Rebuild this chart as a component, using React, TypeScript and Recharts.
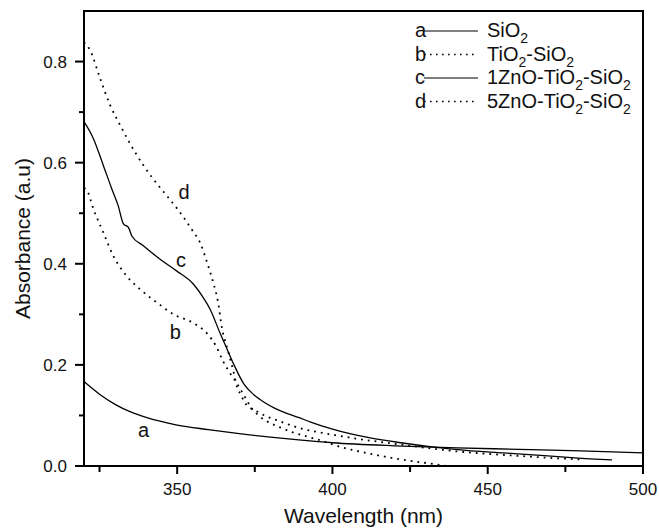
import React from 'react';
import { LineChart, Line, XAxis, YAxis, ReferenceDot, ReferenceArea } from 'recharts';

// wavelength (nm) / absorbance (a.u.)
const waveA = [320, 325, 330, 335, 340, 350, 360, 370, 380, 390, 400, 420, 440, 460, 480, 500];
const absA = [0.167, 0.142, 0.122, 0.107, 0.096, 0.081, 0.072, 0.064, 0.057, 0.051, 0.046, 0.04, 0.036, 0.033, 0.03, 0.026];

const waveB = [320, 321, 323, 326.2, 329.4, 333.7, 338, 340.7, 342.9, 348.8, 355.2, 359.5, 362.7, 364.8, 367, 369.2, 371.4, 374, 376, 379, 382.5, 387, 392, 397, 403, 410, 420, 430, 437];
const absB = [0.55, 0.545, 0.509, 0.462, 0.416, 0.376, 0.35, 0.336, 0.326, 0.3, 0.283, 0.263, 0.235, 0.207, 0.184, 0.164, 0.141, 0.114, 0.101, 0.088, 0.078, 0.067, 0.058, 0.049, 0.037, 0.027, 0.015, 0.006, 0.0];

const waveC = [320, 323, 326.2, 328.9, 331, 332.7, 334.3, 335.4, 339, 344.5, 349.8, 355.2, 358.4, 360.6, 363.8, 366, 368.3, 371.5, 374.5, 378, 381.5, 385.3, 389, 393, 400, 411, 422, 432, 443, 455, 467, 478, 490];
const absC = [0.681, 0.648, 0.595, 0.549, 0.515, 0.479, 0.472, 0.455, 0.436, 0.409, 0.386, 0.36, 0.333, 0.31, 0.263, 0.232, 0.2, 0.162, 0.142, 0.126, 0.114, 0.104, 0.096, 0.087, 0.073, 0.057, 0.046, 0.038, 0.031, 0.026, 0.021, 0.016, 0.012];

const waveD = [320, 322, 325, 328.4, 332, 337, 342, 346.6, 350, 355, 357.5, 359.5, 361.5, 363.2, 364.5, 365.6, 366.7, 368, 369.4, 370.5, 371.6, 373.8, 376, 379, 381.5, 385, 390, 394.5, 400, 410, 420, 430, 440, 450, 460, 470, 480];
const absD = [0.838, 0.822, 0.77, 0.714, 0.67, 0.615, 0.57, 0.535, 0.509, 0.465, 0.44, 0.405, 0.365, 0.323, 0.27, 0.244, 0.22, 0.19, 0.154, 0.141, 0.127, 0.114, 0.107, 0.0975, 0.092, 0.084, 0.074, 0.068, 0.062, 0.052, 0.044, 0.036, 0.029, 0.024, 0.02, 0.016, 0.013];

const xTicks = [325, 350, 375, 400, 425, 450, 475, 500];
const yTicks = [0, 0.1, 0.2, 0.3, 0.4, 0.5, 0.6, 0.7, 0.8];

const legendTags = ['a', 'b', 'c', 'd'];
const legendNames = ['SiO_2', 'TiO_2-SiO_2', '1ZnO-TiO_2-SiO_2', '5ZnO-TiO_2-SiO_2'];
const legendDotted = [false, true, false, true];

// letters written next to the curves
const curveTags = ['a', 'b', 'c', 'd'];
const tagX = [339.2, 349.4, 351.2, 352.2];
const tagY = [0.071, 0.266, 0.407, 0.543];

const FONT = '"Liberation Sans", Arial, sans-serif';
const DOTS = '1.8 5';
const GAP = 10; // tickSize 8 + tickMargin 2

const toPoints = (xs: number[], ys: number[]) => xs.map((x, i) => ({ x, y: ys[i] }));
const seriesA = toPoints(waveA, absA);
const seriesB = toPoints(waveB, absB);
const seriesC = toPoints(waveC, absC);
const seriesD = toPoints(waveD, absD);

const XTick = (props: any) => {
  const { x, y, payload } = props;
  const major = payload.value % 50 === 0;
  const axis = y - GAP;
  return (
    <g>
      <path d={`M${x},${axis}L${x},${axis + (major ? 8 : 6)}`} stroke="#000" strokeWidth={2} fill="none" />
      {major && (
        <text x={x} y={axis + 29} textAnchor="middle" fontSize={17} fontFamily={FONT} fill="#111">
          {payload.value}
        </text>
      )}
    </g>
  );
};

const YTick = (props: any) => {
  const { x, y, payload } = props;
  const major = Math.round(payload.value * 10) % 2 === 0;
  const axis = x + GAP;
  return (
    <g>
      <path d={`M${axis - (major ? 9 : 5)},${y}L${axis},${y}`} stroke="#000" strokeWidth={2} fill="none" />
      {major && (
        <text x={axis - 17} y={y} dy="0.36em" textAnchor="end" fontSize={17} fontFamily={FONT} fill="#111">
          {payload.value.toFixed(1)}
        </text>
      )}
    </g>
  );
};

const subText = (name: string) =>
  name.split('_').map((part, i) =>
    i === 0 ? (
      <tspan key={i}>{part}</tspan>
    ) : (
      <React.Fragment key={i}>
        <tspan dy={6} fontSize={14}>{part[0]}</tspan>
        {part.length > 1 && <tspan dy={-6}>{part.slice(1)}</tspan>}
      </React.Fragment>
    )
  );

const LegendBox = () => (
  <svg width={259} height={120} style={{ position: 'absolute', left: 400, top: 0, pointerEvents: 'none' }}>
    {legendTags.map((tag, i) => {
      const base = 37 + i * 23.5;
      return (
        <g key={tag} fontFamily={FONT} fontSize={20} fill="#111">
          <text x={15} y={base}>{tag}</text>
          <line
            x1={24}
            y1={base - 6}
            x2={78}
            y2={base - 6}
            stroke="#000"
            strokeWidth={legendDotted[i] ? 1.6 : 1.2}
            strokeDasharray={legendDotted[i] ? '1.6 4.4' : undefined}
          />
          <text x={87} y={base}>{subText(legendNames[i])}</text>
        </g>
      );
    })}
  </svg>
);

const App = () => {
  return (
    <div style={{ position: 'absolute', left: 0, top: 0, width: 659, height: 528 }}>
      <LineChart width={659} height={528} margin={{ top: 11, right: 16, bottom: 32, left: 24 }}>
        <XAxis
          dataKey="x"
          type="number"
          domain={[320, 500]}
          ticks={xTicks}
          interval={0}
          height={30}
          tickSize={8}
          tickMargin={2}
          tickLine={{ stroke: 'none' }}
          tick={<XTick />}
          axisLine={{ stroke: '#000', strokeWidth: 2 }}
          label={{ value: 'Wavelength (nm)', position: 'bottom', offset: 12, fontSize: 21, fontFamily: FONT, fill: '#111' }}
        />
        <YAxis
          type="number"
          domain={[0, 0.9]}
          ticks={yTicks}
          interval={0}
          width={60}
          tickSize={8}
          tickMargin={2}
          tickLine={{ stroke: 'none' }}
          tick={<YTick />}
          axisLine={{ stroke: '#000', strokeWidth: 2 }}
          label={{ value: 'Absorbance (a.u)', angle: -90, position: 'center', dx: -31, fontSize: 21, fontFamily: FONT, fill: '#111' }}
        />
        {/* plot frame (top and right sides) */}
        <ReferenceArea x1={320} x2={500} y1={0} y2={0.9} ifOverflow="visible" fill="none" stroke="#000" strokeWidth={2} />
        <Line data={seriesA} dataKey="y" type="monotone" stroke="#000" strokeWidth={1.3} dot={false} isAnimationActive={false} />
        <Line data={seriesB} dataKey="y" type="monotone" stroke="#000" strokeWidth={1.8} strokeDasharray={DOTS} dot={false} isAnimationActive={false} />
        <Line data={seriesC} dataKey="y" type="monotone" stroke="#000" strokeWidth={1.3} dot={false} isAnimationActive={false} />
        <Line data={seriesD} dataKey="y" type="monotone" stroke="#000" strokeWidth={1.8} strokeDasharray={DOTS} dot={false} isAnimationActive={false} />
        {curveTags.map((tag, i) => (
          <ReferenceDot
            key={tag}
            x={tagX[i]}
            y={tagY[i]}
            r={0}
            fill="none"
            stroke="none"
            label={{ value: tag, position: 'center', fontSize: 20, fontFamily: FONT, fill: '#111' }}
          />
        ))}
      </LineChart>
      <LegendBox />
    </div>
  );
};

export default App;
